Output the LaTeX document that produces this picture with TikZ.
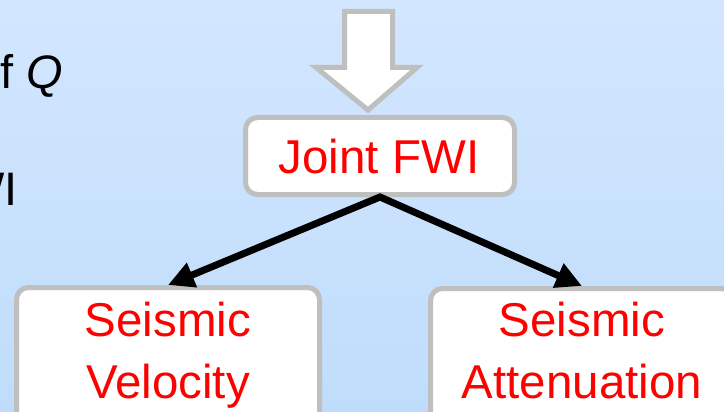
\documentclass[tikz,border=0pt]{standalone}
\usepackage{fontspec}
\setmainfont{Liberation Sans}
\usetikzlibrary{arrows.meta}
\definecolor{bgtop}{RGB}{211,230,255}
\definecolor{bgbot}{RGB}{191,221,251}
\definecolor{boxgray}{RGB}{191,191,191}
\definecolor{txtred}{RGB}{255,0,0}
\tikzset{
  box/.style={draw=boxgray, line width=5pt, fill=white, rounded corners=12pt, inner sep=0pt, rectangle},
  lbl/.style={text=txtred, font=\fontsize{47.5}{56}\selectfont, inner sep=0pt, anchor=base},
  side/.style={text=black, font=\fontsize{47}{56}\selectfont, inner sep=0pt},
  conn/.style={line width=7pt, line join=miter, {Triangle[length=26pt,width=25pt]}-{Triangle[length=26pt,width=25pt]}},
  bigarrow/.style={draw=boxgray, line width=5pt, fill=white, line join=miter},
}
\begin{document}
\begin{tikzpicture}[x=1pt,y=-1pt]
\useasboundingbox (0,0) rectangle (724,412);
\fill[top color=bgtop,bottom color=bgbot] (0,0) rectangle (724,412);
\clip (0,0) rectangle (724,412);

% side texts (cut by the frame)
\node[side, anchor=base east] (s1) at (63,89) {f \textit{Q}};
\node[side, anchor=base west] (s2) at (-40,205) {WI};

% big hollow arrow
\draw[bigarrow] (344.5,11.5) -- (392.5,11.5) -- (392.5,67.5) -- (417,67.5) -- (368,110) -- (316,67.5) -- (344.5,67.5) -- cycle;

% boxes
\node[box, minimum width=269pt, minimum height=77pt] (jf) at (380,156) {};
\node[box, minimum width=303pt, minimum height=160pt] (vel) at (168,367.5) {};
\node[box, minimum width=303pt, minimum height=160pt] (att) at (582,368.5) {};

% connectors
\draw[conn] (vel.north) -- (jf.south) -- (att.north);

% labels
\node[lbl] (jt) at (379,173) {Joint FWI};
\node[lbl] (v1) at (168,336) {Seismic};
\node[lbl] (v2) at (168,398) {Velocity};
\node[lbl] (a1) at (582,336) {Seismic};
\node[lbl] (a2) at (582,398) {Attenuation};
\end{tikzpicture}
\end{document}
